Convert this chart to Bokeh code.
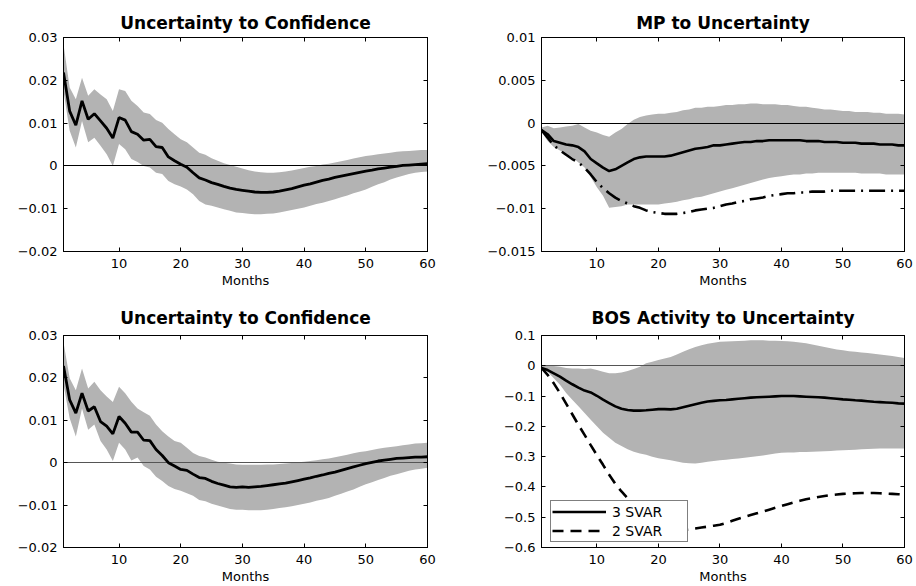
from bokeh.plotting import figure
from bokeh.models import LinearAxis, FixedTicker, Legend, LegendItem, Range1d
from bokeh.layouts import column, row
from bokeh.embed import file_html
from bokeh.resources import INLINE

months = list(range(1, 61))
x_ticks = [10, 20, 30, 40, 50, 60]

# ---- Panel 1: Uncertainty to Confidence (top-left)
tl_mid = [0.0218, 0.0128, 0.0095, 0.0152, 0.0109, 0.0122, 0.0105, 0.0088, 0.0065, 0.0113,
          0.0107, 0.0080, 0.0074, 0.0060, 0.0062, 0.0045, 0.0043, 0.0021, 0.0012, 0.0004,
          -0.0003, -0.0016, -0.0028, -0.0033, -0.0039, -0.0043, -0.0048, -0.0052, -0.0055, -0.0057,
          -0.0059, -0.0061, -0.0062, -0.0062, -0.0061, -0.0059, -0.0056, -0.0053, -0.0049, -0.0045,
          -0.0042, -0.0038, -0.0034, -0.0031, -0.0027, -0.0024, -0.0021, -0.0018, -0.0015, -0.0012,
          -0.0010, -0.0007, -0.0005, -0.0003, -0.0001, 0.0001, 0.0002, 0.0003, 0.0004, 0.0005]
tl_hi = [0.0284, 0.0183, 0.0156, 0.0206, 0.0164, 0.0179, 0.0167, 0.0156, 0.0128, 0.0179,
         0.0175, 0.0152, 0.0140, 0.0125, 0.0121, 0.0107, 0.0101, 0.0086, 0.0074, 0.0062,
         0.0055, 0.0043, 0.0031, 0.0026, 0.0018, 0.0012, 0.0006, 0.0002, -0.0002, -0.0006,
         -0.0010, -0.0013, -0.0015, -0.0016, -0.0016, -0.0015, -0.0013, -0.0011, -0.0008, -0.0005,
         -0.0002, 0.0000, 0.0003, 0.0005, 0.0008, 0.0011, 0.0014, 0.0017, 0.0020, 0.0023,
         0.0025, 0.0027, 0.0029, 0.0031, 0.0033, 0.0034, 0.0035, 0.0036, 0.0037, 0.0037]
tl_lo = [0.0175, 0.0082, 0.0043, 0.0105, 0.0055, 0.0066, 0.0047, 0.0027, 0.0000, 0.0051,
         0.0039, 0.0016, 0.0009, 0.0000, -0.0004, -0.0016, -0.0019, -0.0035, -0.0043, -0.0048,
         -0.0055, -0.0066, -0.0082, -0.0090, -0.0093, -0.0097, -0.0101, -0.0105, -0.0109, -0.0110,
         -0.0112, -0.0113, -0.0113, -0.0112, -0.0111, -0.0109, -0.0106, -0.0103, -0.0100, -0.0097,
         -0.0093, -0.0089, -0.0086, -0.0082, -0.0078, -0.0073, -0.0069, -0.0064, -0.0060, -0.0055,
         -0.0049, -0.0043, -0.0038, -0.0032, -0.0027, -0.0023, -0.0019, -0.0016, -0.0014, -0.0013]

# ---- Panel 2: MP to Uncertainty (top-right)
tr_mid = [-0.0008, -0.0013, -0.0021, -0.0023, -0.0025, -0.0026, -0.0028, -0.0033, -0.0042, -0.0047,
          -0.0052, -0.0056, -0.0054, -0.0050, -0.0046, -0.0042, -0.0040, -0.0039, -0.0039, -0.0039,
          -0.0039, -0.0038, -0.0036, -0.0034, -0.0032, -0.0030, -0.0029, -0.0028, -0.0026, -0.0026,
          -0.0025, -0.0024, -0.0023, -0.0022, -0.0022, -0.0021, -0.0021, -0.0020, -0.0020, -0.0020,
          -0.0020, -0.0020, -0.0020, -0.0021, -0.0021, -0.0021, -0.0022, -0.0022, -0.0022, -0.0023,
          -0.0023, -0.0023, -0.0024, -0.0024, -0.0024, -0.0025, -0.0025, -0.0025, -0.0026, -0.0026]
tr_alt = [-0.0008, -0.0017, -0.0026, -0.0032, -0.0037, -0.0042, -0.0046, -0.0052, -0.0060, -0.0069,
          -0.0076, -0.0082, -0.0087, -0.0091, -0.0094, -0.0097, -0.0099, -0.0102, -0.0104, -0.0105,
          -0.0106, -0.0106, -0.0106, -0.0105, -0.0104, -0.0102, -0.0101, -0.0100, -0.0099, -0.0097,
          -0.0095, -0.0094, -0.0092, -0.0091, -0.0089, -0.0088, -0.0087, -0.0085, -0.0084, -0.0083,
          -0.0082, -0.0082, -0.0081, -0.0081, -0.0080, -0.0080, -0.0080, -0.0079, -0.0079, -0.0079,
          -0.0079, -0.0079, -0.0079, -0.0079, -0.0079, -0.0079, -0.0079, -0.0079, -0.0079, -0.0079]
tr_hi = [-0.0005, -0.0003, -0.0006, -0.0005, -0.0004, -0.0003, -0.0001, -0.0005, -0.0009, -0.0011,
         -0.0014, -0.0016, -0.0011, -0.0007, -0.0001, 0.0004, 0.0007, 0.0009, 0.0010, 0.0011,
         0.0011, 0.0012, 0.0013, 0.0015, 0.0016, 0.0018, 0.0018, 0.0019, 0.0019, 0.0020,
         0.0021, 0.0021, 0.0022, 0.0022, 0.0023, 0.0023, 0.0022, 0.0022, 0.0022, 0.0021,
         0.0021, 0.0020, 0.0019, 0.0019, 0.0018, 0.0017, 0.0016, 0.0016, 0.0015, 0.0014,
         0.0014, 0.0013, 0.0013, 0.0013, 0.0012, 0.0012, 0.0011, 0.0011, 0.0011, 0.0010]
tr_lo = [-0.0010, -0.0021, -0.0028, -0.0032, -0.0036, -0.0040, -0.0046, -0.0052, -0.0063, -0.0075,
         -0.0085, -0.0099, -0.0098, -0.0097, -0.0095, -0.0095, -0.0095, -0.0095, -0.0095, -0.0095,
         -0.0094, -0.0093, -0.0092, -0.0090, -0.0089, -0.0087, -0.0086, -0.0084, -0.0082, -0.0080,
         -0.0078, -0.0076, -0.0074, -0.0072, -0.0070, -0.0068, -0.0066, -0.0064, -0.0063, -0.0062,
         -0.0061, -0.0060, -0.0060, -0.0059, -0.0059, -0.0058, -0.0058, -0.0058, -0.0058, -0.0058,
         -0.0058, -0.0058, -0.0059, -0.0059, -0.0059, -0.0059, -0.0060, -0.0060, -0.0060, -0.0060]

# ---- Panel 3: Uncertainty to Confidence (bottom-left)
bl_mid = [0.0228, 0.0148, 0.0117, 0.0164, 0.0122, 0.0132, 0.0097, 0.0086, 0.0068, 0.0109,
          0.0093, 0.0072, 0.0072, 0.0053, 0.0052, 0.0031, 0.0017, 0.0000, -0.0008, -0.0016,
          -0.0018, -0.0027, -0.0035, -0.0037, -0.0044, -0.0049, -0.0053, -0.0057, -0.0058, -0.0057,
          -0.0058, -0.0057, -0.0056, -0.0054, -0.0052, -0.0050, -0.0048, -0.0045, -0.0042, -0.0039,
          -0.0036, -0.0032, -0.0029, -0.0025, -0.0022, -0.0018, -0.0014, -0.0010, -0.0006, -0.0002,
          0.0001, 0.0004, 0.0006, 0.0008, 0.0010, 0.0011, 0.0012, 0.0013, 0.0013, 0.0014]
bl_hi = [0.0284, 0.0199, 0.0171, 0.0222, 0.0175, 0.0191, 0.0171, 0.0156, 0.0143, 0.0179,
         0.0164, 0.0144, 0.0128, 0.0119, 0.0111, 0.0090, 0.0074, 0.0062, 0.0051, 0.0047,
         0.0035, 0.0023, 0.0016, 0.0012, 0.0007, 0.0002, 0.0000, -0.0002, -0.0004, -0.0005,
         -0.0005, -0.0005, -0.0005, -0.0004, -0.0004, -0.0003, -0.0002, -0.0001, 0.0001, 0.0002,
         0.0004, 0.0006, 0.0008, 0.0010, 0.0013, 0.0016, 0.0019, 0.0022, 0.0025, 0.0027,
         0.0030, 0.0033, 0.0035, 0.0037, 0.0039, 0.0041, 0.0043, 0.0045, 0.0046, 0.0047]
bl_lo = [0.0185, 0.0105, 0.0062, 0.0128, 0.0078, 0.0090, 0.0051, 0.0031, 0.0004, 0.0047,
         0.0031, 0.0005, 0.0012, -0.0008, -0.0016, -0.0033, -0.0043, -0.0055, -0.0062, -0.0066,
         -0.0072, -0.0078, -0.0088, -0.0091, -0.0097, -0.0101, -0.0105, -0.0109, -0.0111, -0.0111,
         -0.0112, -0.0112, -0.0112, -0.0111, -0.0109, -0.0107, -0.0105, -0.0103, -0.0100, -0.0097,
         -0.0094, -0.0090, -0.0087, -0.0083, -0.0078, -0.0073, -0.0068, -0.0063, -0.0057, -0.0051,
         -0.0046, -0.0041, -0.0036, -0.0031, -0.0027, -0.0023, -0.0019, -0.0016, -0.0014, -0.0012]

# ---- Panel 4: BOS Activity to Uncertainty (bottom-right)
br_svar3 = [-0.007, -0.014, -0.025, -0.036, -0.049, -0.061, -0.072, -0.082, -0.088, -0.099,
            -0.112, -0.123, -0.134, -0.142, -0.146, -0.148, -0.148, -0.147, -0.145, -0.143,
            -0.143, -0.144, -0.142, -0.137, -0.132, -0.127, -0.122, -0.118, -0.116, -0.114,
            -0.113, -0.111, -0.109, -0.107, -0.105, -0.104, -0.103, -0.102, -0.101, -0.100,
            -0.100, -0.100, -0.101, -0.102, -0.103, -0.104, -0.105, -0.107, -0.109, -0.111,
            -0.112, -0.114, -0.115, -0.117, -0.119, -0.120, -0.121, -0.122, -0.124, -0.125]
br_svar2 = [-0.007, -0.030, -0.058, -0.090, -0.125, -0.160, -0.195, -0.228, -0.262, -0.295,
            -0.327, -0.360, -0.390, -0.415, -0.437, -0.457, -0.475, -0.490, -0.505, -0.517,
            -0.527, -0.535, -0.540, -0.542, -0.540, -0.537, -0.534, -0.531, -0.528, -0.525,
            -0.519, -0.512, -0.505, -0.499, -0.493, -0.487, -0.481, -0.475, -0.469, -0.463,
            -0.457, -0.451, -0.446, -0.441, -0.437, -0.433, -0.430, -0.427, -0.425, -0.423,
            -0.422, -0.421, -0.420, -0.420, -0.420, -0.421, -0.422, -0.423, -0.424, -0.425]
br_hi = [0.000, 0.000, -0.001, -0.003, -0.007, -0.009, -0.009, -0.011, -0.009, -0.014,
         -0.020, -0.025, -0.025, -0.022, -0.017, -0.011, -0.003, 0.008, 0.013, 0.019,
         0.024, 0.029, 0.037, 0.046, 0.055, 0.062, 0.068, 0.073, 0.076, 0.079,
         0.080, 0.081, 0.082, 0.083, 0.084, 0.084, 0.084, 0.083, 0.083, 0.082,
         0.081, 0.079, 0.077, 0.074, 0.070, 0.066, 0.062, 0.058, 0.054, 0.051,
         0.048, 0.046, 0.044, 0.042, 0.040, 0.037, 0.035, 0.032, 0.029, 0.026]
br_lo = [-0.012, -0.020, -0.041, -0.063, -0.090, -0.112, -0.134, -0.156, -0.178, -0.200,
         -0.221, -0.238, -0.254, -0.265, -0.276, -0.284, -0.290, -0.294, -0.300, -0.305,
         -0.309, -0.312, -0.316, -0.320, -0.322, -0.323, -0.320, -0.317, -0.314, -0.312,
         -0.310, -0.308, -0.306, -0.304, -0.301, -0.299, -0.296, -0.293, -0.290, -0.287,
         -0.286, -0.286, -0.285, -0.285, -0.284, -0.283, -0.282, -0.281, -0.280, -0.279,
         -0.278, -0.277, -0.276, -0.275, -0.274, -0.273, -0.273, -0.273, -0.273, -0.273]

conf_ticks = [-0.02, -0.01, 0, 0.01, 0.02, 0.03]
conf_labels = ["\u22120.02", "\u22120.01", "0", "0.01", "0.02", "0.03"]
mp_ticks = [-0.015, -0.01, -0.005, 0, 0.005, 0.01]
mp_labels = ["\u22120.015", "\u22120.01", "\u22120.005", "0", "0.005", "0.01"]
bos_ticks = [-0.6, -0.5, -0.4, -0.3, -0.2, -0.1, 0, 0.1]
bos_labels = ["\u22120.6", "\u22120.5", "\u22120.4", "\u22120.3", "\u22120.2", "\u22120.1", "0", "0.1"]

FONT = "DejaVu Sans"
BAND = "#b3b3b3"


def style_axis(ax, ticks, show_labels=True):
    ax.major_tick_in = 4
    ax.major_tick_out = 0
    ax.minor_tick_line_color = None
    ax.axis_line_color = "black"
    ax.major_tick_line_color = "black"
    if show_labels:
        ax.major_label_text_font = FONT
        ax.major_label_text_font_size = "13px"
        ax.major_label_text_color = "black"
    else:
        ax.major_label_overrides = {t: "" for t in ticks}
        ax.major_label_text_font_size = "1px"
        ax.major_label_text_color = None
        ax.major_label_standoff = 0


def panel(title, ylim, yticks, ylabels, bl, br, bt, bb, title_gap):
    p = figure(width=458, height=293, x_range=Range1d(1, 60), y_range=Range1d(*ylim),
               output_backend="svg", toolbar_location=None, tools="",
               min_border_left=bl, min_border_right=br, min_border_top=bt, min_border_bottom=bb)
    p.xgrid.visible = False
    p.ygrid.visible = False
    p.outline_line_color = "black"
    p.title.text = title
    p.title.text_font = FONT
    p.title.text_font_style = "bold"
    p.title.text_font_size = "17px"
    p.title.text_color = "black"
    p.title.align = "center"
    p.title.standoff = title_gap

    p.xaxis.ticker = FixedTicker(ticks=x_ticks)
    p.yaxis.ticker = FixedTicker(ticks=yticks)
    p.yaxis.major_label_overrides = dict(zip(yticks, ylabels))
    style_axis(p.xaxis[0], x_ticks)
    style_axis(p.yaxis[0], yticks)
    p.yaxis.major_label_standoff = 6
    p.xaxis.major_label_standoff = 7
    p.xaxis.axis_label = "Months"
    p.xaxis.axis_label_text_font = FONT
    p.xaxis.axis_label_text_font_size = "13px"
    p.xaxis.axis_label_text_font_style = "normal"
    p.xaxis.axis_label_text_color = "black"
    p.xaxis.axis_label_standoff = 2

    ra = LinearAxis(ticker=FixedTicker(ticks=yticks))
    style_axis(ra, yticks, False)
    p.add_layout(ra, "right")
    ta = LinearAxis(ticker=FixedTicker(ticks=x_ticks))
    style_axis(ta, x_ticks, False)
    p.add_layout(ta, "above")
    return p


p1 = panel("Uncertainty to Confidence", (-0.02, 0.03), conf_ticks, conf_labels, 63, 31, 37, 42, 9)
p1.varea(x=months, y1=tl_lo, y2=tl_hi, fill_color=BAND)
p1.hspan(y=[0], line_color="black", line_width=1)
p1.line(months, tl_mid, line_color="black", line_width=2.8)

p2 = panel("MP to Uncertainty", (-0.015, 0.01), mp_ticks, mp_labels, 83, 12, 37, 42, 9)
p2.varea(x=months, y1=tr_lo, y2=tr_hi, fill_color=BAND)
p2.hspan(y=[0], line_color="black", line_width=1)
p2.line(months, tr_mid, line_color="black", line_width=2.6)
p2.line(months, tr_alt, line_color="black", line_width=2.6, line_dash="16 6 2 6")

p3 = panel("Uncertainty to Confidence", (-0.02, 0.03), conf_ticks, conf_labels, 63, 31, 42, 37, 15)
p3.varea(x=months, y1=bl_lo, y2=bl_hi, fill_color=BAND)
p3.hspan(y=[0], line_color="#555555", line_width=1)
p3.line(months, bl_mid, line_color="black", line_width=2.8)

p4 = panel("BOS Activity to Uncertainty", (-0.6, 0.1), bos_ticks, bos_labels, 83, 12, 42, 37, 15)
p4.varea(x=months, y1=br_lo, y2=br_hi, fill_color=BAND)
p4.hspan(y=[0], line_color="#555555", line_width=1)
r3 = p4.line(months, br_svar3, line_color="black", line_width=2.6)
r2 = p4.line(months, br_svar2, line_color="black", line_width=2.6, line_dash="11 7")
legend = Legend(items=[LegendItem(label="3 SVAR", renderers=[r3]),
                       LegendItem(label="2 SVAR", renderers=[r2])],
                location=(9, 5), border_line_color="black", border_line_width=1,
                background_fill_color="white", background_fill_alpha=1.0,
                label_text_font=FONT, label_text_font_size="14px", label_text_color="black",
                glyph_width=54, glyph_height=19, label_height=19, label_width=74,
                spacing=0, padding=1, margin=0, label_standoff=6)
p4.add_layout(legend)

layout = column(row(p1, p2), row(p3, p4))
open("out.html", "w").write(file_html(layout, INLINE))
